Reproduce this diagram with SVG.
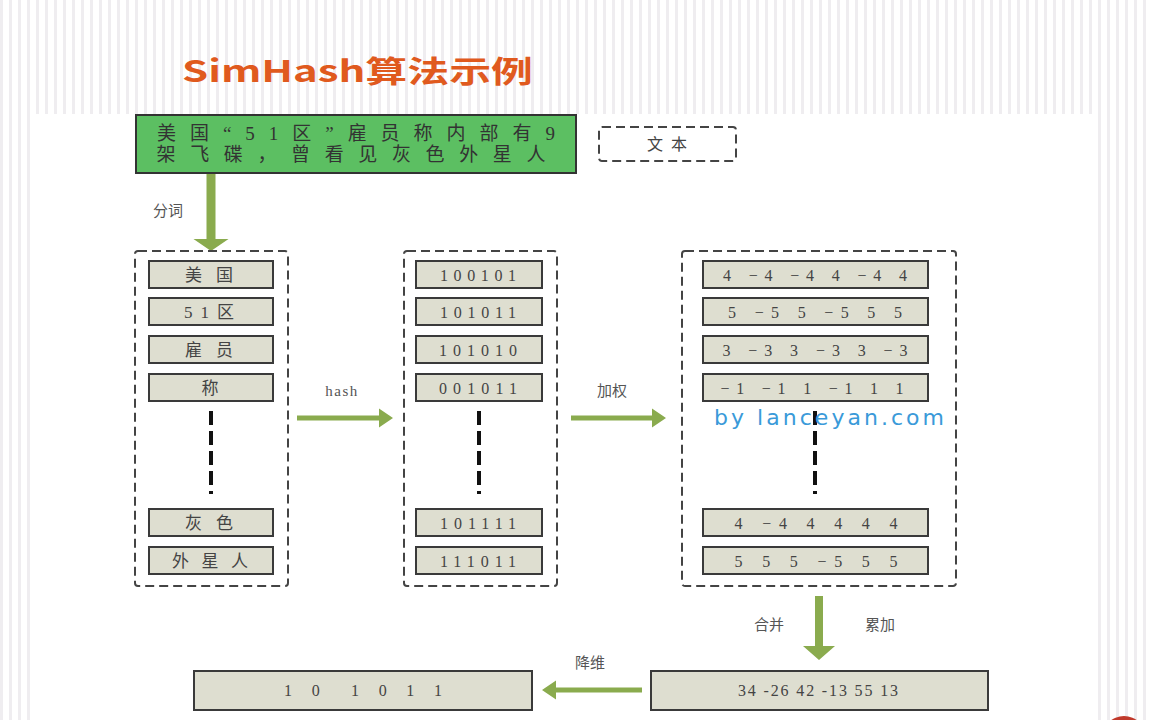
<svg xmlns="http://www.w3.org/2000/svg" width="1149" height="720" viewBox="0 0 1149 720">
<defs>
<pattern id="stripes" width="9" height="20" patternUnits="userSpaceOnUse">
<rect width="9" height="20" fill="#ffffff"/>
<rect x="0" width="3" height="20" fill="#efedf0"/>
</pattern>
<style>
.dash{fill:none;stroke:#444;stroke-width:2;stroke-dasharray:9 5}
.cell{fill:#deded0;stroke:#3a3a3a;stroke-width:2}
.t{font-family:"Liberation Serif","Noto Sans CJK SC",serif;font-size:16px;fill:#444;text-anchor:middle;dominant-baseline:central}
.cj{font-size:17px}
.big{font-size:19px;fill:#333}
.lbl{font-family:"Liberation Serif","Noto Sans CJK SC",serif;font-size:15px;fill:#555;text-anchor:middle;dominant-baseline:central}
.arr{fill:#8aab4e}
.vdash{stroke:#111;stroke-width:4;stroke-dasharray:14 6}
</style>
</defs>
<rect width="1149" height="720" fill="url(#stripes)"/>
<rect x="30" y="114" width="1063" height="606" fill="#ffffff"/>
<circle cx="1124" cy="738" r="22" fill="#c0392b"/>

<text x="182" y="82" font-family="'Noto Sans CJK SC','Liberation Sans',sans-serif" font-weight="bold" font-size="30" fill="#e05a1e" textLength="351" lengthAdjust="spacingAndGlyphs">SimHash算法示例</text>

<g id="connectors">
<path class="arr" d="M206.5 173 h9 v66 h13 l-17.5 12 l-17.5 -12 h13 z"/>
<text class="lbl" x="168" y="211">分词</text>
<path class="arr" d="M297 415.5 h82 v-7 l14 9.5 l-14 9.5 v-7 h-82 z"/>
<text class="lbl" x="342" y="391" letter-spacing="1.5">hash</text>
<path class="arr" d="M571 415.5 h81 v-7 l14 9.5 l-14 9.5 v-7 h-81 z"/>
<text class="lbl" x="612" y="391">加权</text>
<path class="arr" d="M815 596 h8 v50 h12 l-16 14 l-16 -14 h12 z"/>
<text class="lbl" x="769" y="625">合并</text>
<text class="lbl" x="880" y="625">累加</text>
<path class="arr" d="M642 687.5 h-86 v-7 l-14 9.5 l14 9.5 v-7 h86 z"/>
<text class="lbl" x="590" y="663">降维</text>
</g>

<g id="text-node">
<rect x="136" y="115" width="440" height="58" fill="#5cbf62" stroke="#333" stroke-width="2"/>
<text class="t big" x="356" y="133" textLength="398" lengthAdjust="spacing">美国“51区”雇员称内部有9</text>
<text class="t big" x="351" y="154" textLength="389" lengthAdjust="spacing">架飞碟，曾看见灰色外星人</text>
</g>

<g id="legend-text">
<rect class="dash" x="599" y="127" width="137" height="34" rx="3"/>
<text class="t" x="667" y="144" textLength="40" lengthAdjust="spacing">文本</text>
</g>

<g id="words">
<rect class="dash" x="135" y="251" width="153" height="335" rx="3"/>
<rect class="cell" x="149" y="261" width="124" height="27"/>
<text class="t cj" x="209" y="275" textLength="48" lengthAdjust="spacing">美国</text>
<rect class="cell" x="149" y="298" width="124" height="27"/>
<text class="t cj" x="209" y="312" textLength="50" lengthAdjust="spacing">51区</text>
<rect class="cell" x="149" y="336" width="124" height="27"/>
<text class="t cj" x="209" y="350" textLength="48" lengthAdjust="spacing">雇员</text>
<rect class="cell" x="149" y="374" width="124" height="27"/>
<text class="t cj" x="210" y="388">称</text>
<line class="vdash" x1="211" y1="411" x2="211" y2="494"/>
<rect class="cell" x="149" y="509" width="124" height="27"/>
<text class="t cj" x="209" y="523" textLength="48" lengthAdjust="spacing">灰色</text>
<rect class="cell" x="149" y="547" width="124" height="27"/>
<text class="t cj" x="210" y="561" textLength="76" lengthAdjust="spacing">外星人</text>
</g>

<g id="hashes">
<rect class="dash" x="404" y="251" width="153" height="335" rx="3"/>
<rect class="cell" x="416" y="261" width="126" height="27"/>
<text class="t" x="478" y="275" textLength="76" lengthAdjust="spacing">100101</text>
<rect class="cell" x="416" y="298" width="126" height="27"/>
<text class="t" x="478" y="312" textLength="76" lengthAdjust="spacing">101011</text>
<rect class="cell" x="416" y="336" width="126" height="27"/>
<text class="t" x="478" y="350" textLength="78" lengthAdjust="spacing">101010</text>
<rect class="cell" x="416" y="374" width="126" height="27"/>
<text class="t" x="478" y="388" textLength="78" lengthAdjust="spacing">001011</text>
<line class="vdash" x1="479" y1="411" x2="479" y2="494"/>
<rect class="cell" x="416" y="509" width="126" height="27"/>
<text class="t" x="478" y="523" textLength="76" lengthAdjust="spacing">101111</text>
<rect class="cell" x="416" y="547" width="126" height="27"/>
<text class="t" x="478" y="561" textLength="76" lengthAdjust="spacing">111011</text>
</g>

<g id="weights">
<rect class="dash" x="682" y="251" width="274" height="335" rx="3"/>
<rect class="cell" x="703" y="261" width="225" height="27"/>
<text class="t" x="815" y="275" textLength="184" lengthAdjust="spacing">4 −4 −4 4 −4 4</text>
<rect class="cell" x="703" y="298" width="225" height="27"/>
<text class="t" x="815" y="312" textLength="174" lengthAdjust="spacing">5 −5 5 −5 5 5</text>
<rect class="cell" x="703" y="336" width="225" height="27"/>
<text class="t" x="815" y="350" textLength="185" lengthAdjust="spacing">3 −3 3 −3 3 −3</text>
<rect class="cell" x="703" y="374" width="225" height="27"/>
<text class="t" x="812" y="388" textLength="183" lengthAdjust="spacing">−1 −1 1 −1 1 1</text>
<line class="vdash" x1="815" y1="411" x2="815" y2="494"/>
<rect class="cell" x="703" y="509" width="225" height="27"/>
<text class="t" x="816" y="523" textLength="163" lengthAdjust="spacing">4 −4 4 4 4 4</text>
<rect class="cell" x="703" y="547" width="225" height="27"/>
<text class="t" x="816" y="561" textLength="163" lengthAdjust="spacing">5 5 5 −5 5 5</text>
<text x="714" y="425" font-family="'DejaVu Sans',sans-serif" font-size="22" fill="#3a9ad9" textLength="230" lengthAdjust="spacing">by lanceyan.com</text>
</g>

<g id="sum">
<rect class="cell" x="651" y="671" width="337" height="39"/>
<text class="t" x="818" y="690" textLength="160" lengthAdjust="spacing">34 -26 42 -13 55 13</text>
</g>

<g id="fingerprint">
<rect class="cell" x="194" y="671" width="338" height="39"/>
<text class="t" x="363" y="690" textLength="158" lengthAdjust="spacing" xml:space="preserve">1 0  1 0 1 1</text>
</g>
</svg>
